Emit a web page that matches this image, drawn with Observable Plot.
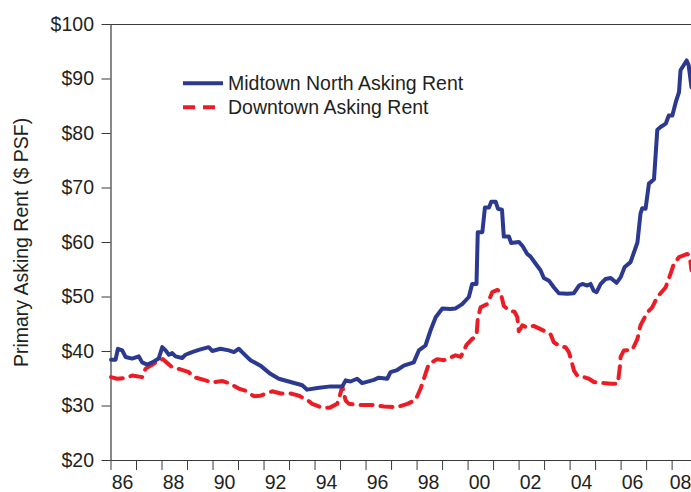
<!DOCTYPE html>
<html>
<head>
<meta charset="utf-8">
<script src="https://cdn.jsdelivr.net/npm/d3@7"></script>
<script src="https://cdn.jsdelivr.net/npm/@observablehq/plot@0.6"></script>
<style>
  html, body { margin: 0; padding: 0; background: #fff; }
  #chart svg { display: block; }
</style>
</head>
<body>
<div id="chart"></div>
<script>
// ---- Data ----
const seriesNames = ["Midtown North Asking Rent", "Downtown Asking Rent"];

const midtownYears = [1986.0,1986.18,1986.27,1986.44,1986.57,1986.83,1987.09,1987.22,1987.42,1987.62,1987.87,1988.01,1988.14,1988.27,1988.40,1988.53,1988.79,1988.92,1989.18,1989.44,1989.83,1989.97,1990.29,1990.62,1990.82,1991.01,1991.27,1991.47,1991.86,1992.25,1992.58,1993.04,1993.50,1993.69,1994.09,1994.61,1995.07,1995.20,1995.39,1995.65,1995.85,1996.31,1996.50,1996.83,1996.96,1997.22,1997.48,1997.87,1998.07,1998.33,1998.53,1998.73,1998.99,1999.31,1999.51,1999.77,2000.03,2000.16,2000.33,2000.38,2000.56,2000.66,2000.82,2000.91,2001.08,2001.17,2001.33,2001.40,2001.60,2001.69,2001.99,2002.13,2002.32,2002.45,2002.65,2002.84,2002.97,2003.17,2003.36,2003.56,2003.89,2004.15,2004.35,2004.48,2004.67,2004.80,2004.93,2005.04,2005.20,2005.39,2005.59,2005.82,2005.98,2006.14,2006.37,2006.64,2006.76,2006.83,2006.96,2007.09,2007.29,2007.42,2007.55,2007.75,2007.87,2008.01,2008.14,2008.27,2008.33,2008.57,2008.65,2008.76];
const midtownValues = [38.5,38.5,40.5,40.2,39.0,38.7,39.1,38.0,37.6,38.0,38.7,40.8,40.2,39.4,39.7,39.1,38.8,39.4,39.9,40.3,40.8,40.1,40.5,40.2,39.9,40.5,39.3,38.4,37.4,35.9,35.0,34.4,33.8,33.0,33.3,33.6,33.6,34.7,34.5,35.0,34.2,34.8,35.2,35.0,36.2,36.6,37.4,38.0,40.2,41.1,43.9,46.3,47.9,47.8,47.9,48.7,50.0,52.4,52.4,61.9,61.9,66.4,66.4,67.5,67.5,66.2,66.0,61.1,61.1,59.9,60.1,59.4,57.9,57.4,56.1,54.9,53.5,53.0,51.8,50.7,50.6,50.7,52.1,52.4,52.1,52.4,51.1,50.9,52.4,53.3,53.5,52.6,53.6,55.5,56.4,60.0,65.3,66.3,66.2,70.8,71.6,80.7,81.2,81.8,83.3,83.3,85.7,87.6,91.6,93.4,92.5,88.5];

const downtownYears = [1986.0,1986.24,1986.64,1986.83,1987.22,1987.35,1987.55,1987.87,1988.03,1988.40,1988.66,1989.05,1989.25,1989.71,1989.97,1990.36,1990.62,1991.01,1991.27,1991.60,1991.86,1992.32,1992.65,1993.04,1993.36,1993.69,1993.89,1994.28,1994.58,1994.87,1994.95,1995.07,1995.20,1995.33,1995.78,1996.31,1996.70,1997.22,1997.62,1997.94,1998.14,1998.33,1998.46,1998.79,1999.05,1999.51,1999.71,1999.94,2000.16,2000.33,2000.38,2000.49,2000.75,2000.95,2001.15,2001.27,2001.40,2001.60,2001.82,2001.93,2001.99,2002.13,2002.32,2002.57,2002.84,2003.11,2003.24,2003.36,2003.63,2003.82,2003.95,2004.04,2004.15,2004.28,2004.54,2004.74,2004.93,2005.33,2005.59,2005.87,2005.95,2005.98,2006.11,2006.44,2006.64,2006.76,2007.03,2007.22,2007.42,2007.75,2007.94,2008.07,2008.27,2008.60,2008.69,2008.76];
const downtownValues = [35.3,35.0,35.2,35.6,35.3,36.8,37.4,38.3,38.6,37.1,36.8,36.2,35.3,34.7,34.3,34.6,34.2,33.2,32.8,31.8,31.9,32.7,32.3,32.3,31.9,31.1,30.4,29.7,29.7,30.4,31.6,33.6,31.0,30.4,30.2,30.2,29.9,29.8,30.4,31.1,33.2,35.9,37.7,38.6,38.4,39.3,39.0,41.2,42.3,42.9,46.0,48.1,48.7,50.9,51.3,50.9,48.4,47.5,47.3,46.3,43.7,44.8,44.4,44.7,44.1,43.5,43.1,41.7,40.9,40.8,39.9,38.5,36.5,35.6,35.3,35.0,34.4,34.2,34.1,34.1,37.1,39.0,40.2,40.3,42.3,44.8,47.2,48.1,50.0,51.8,54.3,56.1,57.3,57.9,57.5,54.9];

const yTicks = [20, 30, 40, 50, 60, 70, 80, 90, 100];
const xTickYears = d3.range(1986, 2009);           // tick marks at every year start
const xLabelYears = d3.range(1986, 2009, 2);       // labels at even years
const xLabels = ["86","88","90","92","94","96","98","00","02","04","06","08"];
const yTitle = "Primary Asking Rent ($ PSF)";
const xEnd = 2008.76;

// ---- Styles ----
const blue = "#2b3990";
const red = "#ed1c24";
const ink = "#231f20";
const axisInk = "#3a3a3a";
const font = "'Liberation Sans', Arial, Helvetica, sans-serif";
const fs = 19.5;

const midtown = midtownYears.map((y, i) => ({year: y, value: midtownValues[i]}));
const downtown = downtownYears.map((y, i) => ({year: y, value: downtownValues[i]}));
// labels sit inside each even year's interval (kept inside the frame at the right end)
const labelPos = xLabelYears.map(y => Math.min(y + 0.45, xEnd - 0.43));
const labelMap = new Map(labelPos.map((p, i) => [p, xLabels[i]]));

const chart = Plot.plot({
  width: 691,
  height: 492,
  marginLeft: 110.5,
  marginRight: 0,
  marginTop: 24,
  marginBottom: 32,
  style: {fontFamily: font, color: ink, background: "#fff", overflow: "visible"},
  x: {domain: [1986, xEnd]},
  y: {domain: [20, 100]},
  marks: [
    Plot.axisY({ticks: yTicks, tickFormat: d => "$" + d, tickSize: 9, tickPadding: 8,
                fontSize: fs, label: null, stroke: axisInk, fill: ink}),
    Plot.axisX({ticks: xTickYears, tickSize: 10, tickFormat: () => "", label: null, stroke: axisInk}),
    Plot.axisX({ticks: labelPos, tickSize: 0, tickPadding: 15,
                tickFormat: d => labelMap.get(d), fontSize: fs, label: null, fill: ink}),
    Plot.ruleX([1986], {stroke: axisInk, strokeWidth: 1.2}),
    Plot.ruleY([20], {stroke: axisInk, strokeWidth: 1.2}),
    Plot.ruleY([100], {stroke: axisInk, strokeWidth: 1.2}),
    Plot.text([yTitle], {frameAnchor: "left", dx: -89.5, rotate: -90, fontSize: fs,
                         fill: ink, textAnchor: "middle", lineAnchor: "middle"}),
    Plot.line(downtown, {x: "year", y: "value", stroke: red, strokeWidth: 4,
                         strokeDasharray: "12,8", strokeLinejoin: "round"}),
    Plot.line(midtown, {x: "year", y: "value", stroke: blue, strokeWidth: 4,
                        strokeLinejoin: "round"})
  ]
});

// ---- In-plot legend ----
const svg = d3.select(chart);
const legend = svg.append("g")
  .attr("font-family", font).attr("font-size", fs).attr("fill", ink)
  .attr("text-anchor", "start");
const legendItems = [
  {name: seriesNames[0], color: blue, dash: null, len: 40},
  {name: seriesNames[1], color: red, dash: "12,8", len: 32}
];
legendItems.forEach((d, i) => {
  const cy = 83.3 + i * 24;
  legend.append("line")
    .attr("x1", 183).attr("x2", 183 + d.len).attr("y1", cy).attr("y2", cy)
    .attr("stroke", d.color).attr("stroke-width", 4)
    .attr("stroke-dasharray", d.dash);
  legend.append("text").attr("x", 228).attr("y", cy + 6.8)
    .attr("text-anchor", "start").text(d.name);
});

document.getElementById("chart").appendChild(chart);
</script>
</body>
</html>
